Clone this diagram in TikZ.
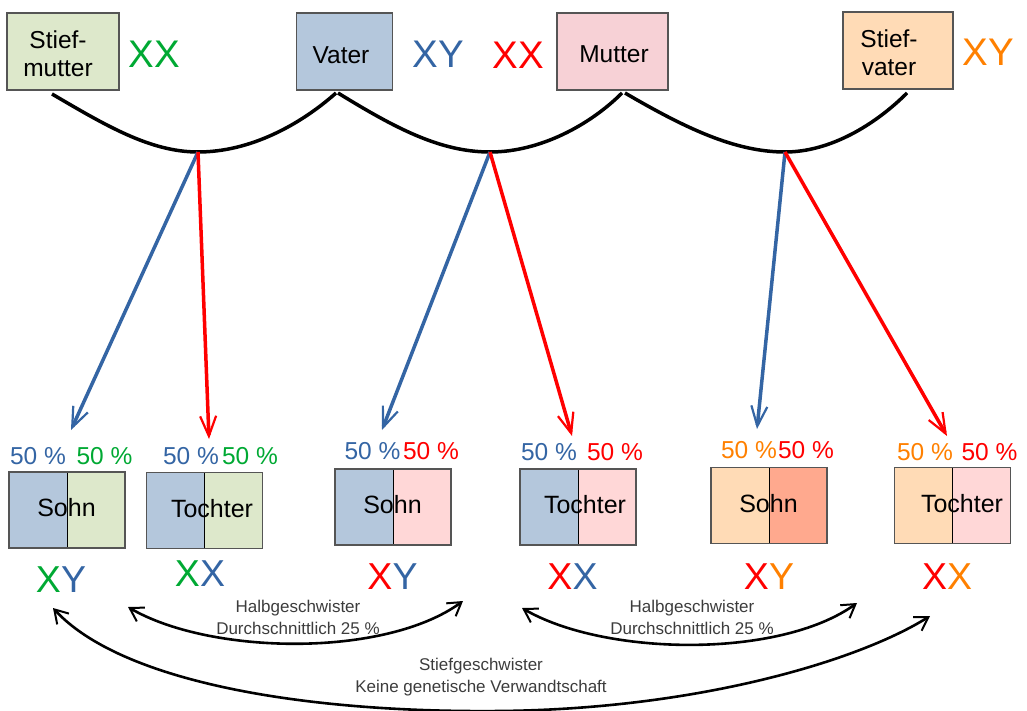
\documentclass[tikz,border=0pt]{standalone}
\usepackage{fontspec}
\setmainfont{Liberation Sans}
\usetikzlibrary{arrows.meta,calc}
\definecolor{cblue}{HTML}{3465A4}
\definecolor{cred}{HTML}{FF0000}
\definecolor{cgreen}{HTML}{00A933}
\definecolor{corange}{HTML}{FF8000}
\definecolor{fgreen}{HTML}{DDE8CB}
\definecolor{fblue}{HTML}{B4C7DC}
\definecolor{fpinkm}{HTML}{F7D1D6}
\definecolor{fpink}{HTML}{FFD7D7}
\definecolor{forange}{HTML}{FFDBB6}
\definecolor{fsalmon}{HTML}{FFA98E}
\definecolor{boxline}{HTML}{555555}
\definecolor{notec}{HTML}{3C3C3C}
\begin{document}
\begin{tikzpicture}[x=1pt,y=-1pt,
  parent/.style={draw=boxline,line width=1.3pt,minimum width=#1,minimum height=77pt,inner sep=0pt},
  ptext/.style={align=center,inner sep=0pt,font=\fontsize{24.5}{28}\selectfont},
  kid/.style 2 args={draw=boxline,line width=1.3pt,minimum width=116pt,minimum height=76pt,inner sep=0pt,
    path picture={\fill[#1] (path picture bounding box.south west) rectangle (path picture bounding box.north);
      \fill[#2] (path picture bounding box.south) rectangle (path picture bounding box.north east);
      \draw[black,line width=0.9pt] (path picture bounding box.south) -- (path picture bounding box.north);}},
  kidtext/.style={font=\fontsize{25}{28}\selectfont,inner sep=0pt},
  pct/.style={font=\fontsize{24.5}{28}\selectfont,inner sep=0pt},
  chr/.style={font=\fontsize{37.5}{40}\selectfont,inner sep=0pt},
  chrbig/.style={font=\fontsize{38.5}{40}\selectfont,inner sep=0pt},
  note/.style={align=center,font=\fontsize{17}{22}\selectfont,text=notec,inner sep=0pt},
  marriage/.style={draw=black,line width=3.5pt},
  gene/.style={line width=3.5pt,-{Straight Barb[length=20pt,width=16pt,line width=2.2pt]}},
  sib/.style={draw=black,line width=2.6pt,{Straight Barb[length=13pt,width=16pt,line width=2pt]}-{Straight Barb[length=13pt,width=16pt,line width=2pt]}}
]
\useasboundingbox (0,0) rectangle (1027,711);

% parents
\node[parent=112pt,fill=fgreen] (sm) at (63,51.5) {};
\node[ptext] (smt) at (58,54) {Stief-\\mutter};
\node[parent=96pt,fill=fblue] (va) at (344.5,51.5) {};
\node[ptext] (vat) at (341,55) {Vater};
\node[parent=111pt,fill=fpinkm] (mu) at (612.5,51.5) {};
\node[ptext] (mut) at (614,54.5) {Mutter};
\node[parent=110pt,fill=forange] (sv) at (898,50.5) {};
\node[ptext] (svt) at (889,53) {Stief-\\vater};

\node[chrbig,text=cgreen] (xsm) at (154.5,54) {XX};
\node[chrbig,text=cblue] (xva) at (438,54) {XY};
\node[chrbig,text=cred] (xmu) at (518,55) {XX};
\node[chrbig,text=corange] (xsv) at (988,52) {XY};

% marriage curves
\coordinate (a1) at (52,94);
\coordinate (j1) at (198,152);
\coordinate (b1) at (336,93);
\coordinate (a2) at (338,93);
\coordinate (j2) at (490,152);
\coordinate (b2) at (622,93);
\coordinate (a3) at (625,93);
\coordinate (j3) at (785,152);
\coordinate (b3) at (907,93);
\draw[marriage] (a1) .. controls (105,125) and (150,152) .. (j1) .. controls (250,152) and (300,125) .. (b1);
\draw[marriage] (a2) .. controls (395,128) and (440,152) .. (j2) .. controls (540,152) and (590,125) .. (b2);
\draw[marriage] (a3) .. controls (685,128) and (735,152) .. (j3) .. controls (830,152) and (875,125) .. (b3);

% children
\node[kid={fblue}{fgreen}] (s1) at (67,510) {};
\node[kidtext] (s1t) at (66.5,508) {Sohn};
\node[kid={fblue}{fgreen}] (t1) at (204.5,510.5) {};
\node[kidtext] (t1t) at (212,508.5) {Tochter};
\node[kid={fblue}{fpink}] (s2) at (393,507) {};
\node[kidtext] (s2t) at (392.5,505) {Sohn};
\node[kid={fblue}{fpink}] (t2) at (578,507) {};
\node[kidtext] (t2t) at (585,505) {Tochter};
\node[kid={forange}{fsalmon}] (s3) at (769,505.5) {};
\node[kidtext] (s3t) at (768.5,503.5) {Sohn};
\node[kid={forange}{fpink}] (t3) at (952.5,505.5) {};
\node[kidtext] (t3t) at (962,504) {Tochter};

% percentages
\node[pct,text=cblue] (p1a) at (38,456) {50 \%};
\node[pct,text=cgreen] (p1b) at (104.5,456) {50 \%};
\node[pct,text=cblue] (p2a) at (191,456) {50 \%};
\node[pct,text=cgreen] (p2b) at (250,456) {50 \%};
\node[pct,text=cblue] (p3a) at (372.5,451) {50 \%};
\node[pct,text=cred] (p3b) at (431,451) {50 \%};
\node[pct,text=cblue] (p4a) at (549,452.5) {50 \%};
\node[pct,text=cred] (p4b) at (615,452.5) {50 \%};
\node[pct,text=corange] (p5a) at (749,450) {50 \%};
\node[pct,text=cred] (p5b) at (806,450) {50 \%};
\node[pct,text=corange] (p6a) at (925,452.5) {50 \%};
\node[pct,text=cred] (p6b) at (989.5,452.5) {50 \%};

% chromosomes of children
\node[chr] (c1) at (61,580) {\color{cgreen}X\color{cblue}Y};
\node[chr] (c2) at (200,574) {\color{cgreen}X\color{cblue}X};
\node[chr] (c3) at (392.5,577) {\color{cred}X\color{cblue}Y};
\node[chr] (c4) at (572.5,577) {\color{cred}X\color{cblue}X};
\node[chr] (c5) at (769,577) {\color{cred}X\color{corange}Y};
\node[chr] (c6) at (947,577) {\color{cred}X\color{corange}X};

% inheritance arrows
\coordinate (tb1) at (71,430);
\coordinate (tr1) at (209,439);
\coordinate (tb2) at (382,430);
\coordinate (tr2) at (572,436);
\coordinate (tb3) at (757,429);
\coordinate (tr3) at (947,436);
\draw[gene,cblue] (j1) -- (tb1);
\draw[gene,cred] (j1) -- (tr1);
\draw[gene,cblue] (j2) -- (tb2);
\draw[gene,cred] (j2) -- (tr2);
\draw[gene,cblue] (j3) -- (tb3);
\draw[gene,cred] (j3) -- (tr3);

% sibling relations
\coordinate (h1a) at (128,607);
\coordinate (h1b) at (463,601);
\coordinate (h2a) at (522,608);
\coordinate (h2b) at (857,603);
\coordinate (sa) at (53,608);
\coordinate (sm2) at (500,711);
\coordinate (sb) at (930,616);
\draw[sib] (h1a) .. controls (210,655) and (385,658) .. (h1b);
\draw[sib] (h2a) .. controls (604,656) and (779,659) .. (h2b);
\draw[sib] (sa) .. controls (120,681) and (300,713) .. (sm2) .. controls (700,709) and (860,660) .. (sb);

\node[note] (n1) at (298,617) {Halbgeschwister\\Durchschnittlich 25 \%};
\node[note] (n2) at (692,617) {Halbgeschwister\\Durchschnittlich 25 \%};
\node[note] (n3) at (481,677) {Stiefgeschwister\\Keine genetische Verwandtschaft};
\end{tikzpicture}
\end{document}
